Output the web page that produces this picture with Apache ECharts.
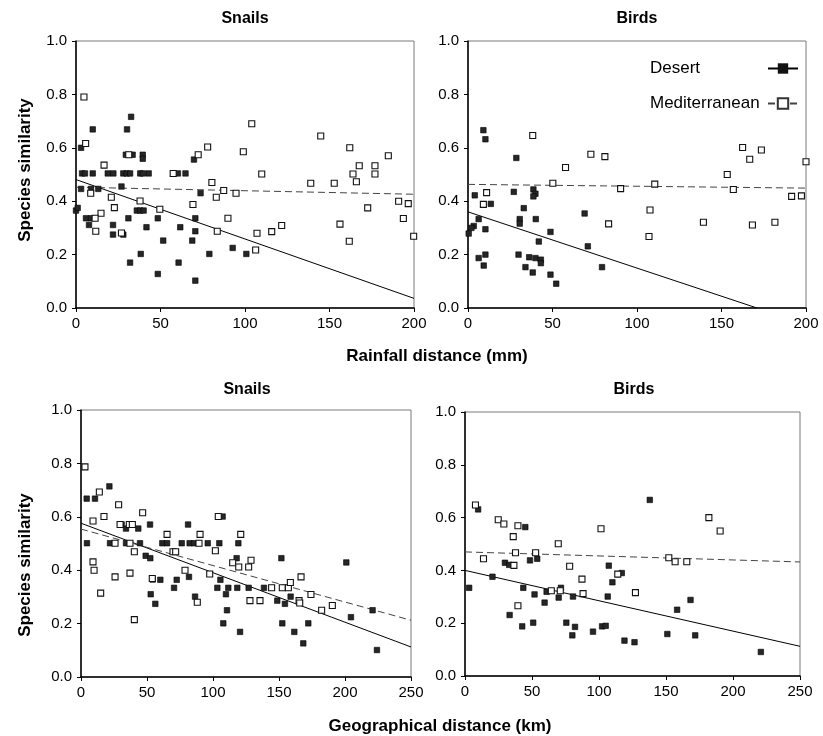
<!DOCTYPE html>
<html><head><meta charset="utf-8">
<script src="https://cdn.jsdelivr.net/npm/echarts@6/dist/echarts.min.js"></script>
<style>html,body{margin:0;padding:0;background:#fff}#c{width:823px;height:736px}</style>
</head><body><div id="c"></div>
<script>
// ---------- data ----------
const panelTitles = ['Snails', 'Birds', 'Snails', 'Birds'];
const xMaxes = [200, 200, 250, 250];
const xLabelTop = 'Rainfall distance (mm)';
const xLabelBottom = 'Geographical distance (km)';
const yLabel = 'Species similarity';
const seriesNames = ['Desert', 'Mediterranean'];

// Panel 1: snails vs rainfall distance
const snailsRainDesert = [[32.6,0.716],[9.9,0.669],[30.2,0.669],[3,0.6],[29.5,0.574],[33.5,0.574],[39.5,0.574],[39.5,0.559],[69.8,0.556],
 [3.6,0.504],[5.3,0.504],[9.9,0.504],[18.8,0.504],[22.1,0.504],[28,0.504],[30,0.504],[32,0.504],[38,0.504],[39.5,0.504],[43,0.504],[60.3,0.504],[64.8,0.504],
 [3,0.446],[8.9,0.446],[13.2,0.446],[26.9,0.455],[73.7,0.43],
 [0,0.365],[1,0.375],[36,0.365],[38,0.365],[40,0.365],
 [5.9,0.336],[8.9,0.336],[31,0.336],[48.4,0.336],[70.6,0.336],
 [7.7,0.311],[21.9,0.311],[41.7,0.3025],[61.7,0.3025],[70.6,0.2875],
 [21.9,0.275],[28,0.275],[51.6,0.2525],[68.8,0.2525],[92.7,0.225],
 [38.3,0.2025],[78.9,0.2025],[100.8,0.2025],[32,0.17],[60.7,0.17],[48.4,0.1275],[70.6,0.1025]];
const snailsRainMed = [[4.7,0.79],[5.7,0.616],[31.2,0.574],[72.3,0.574],[77.9,0.603],[99,0.585],[16.6,0.535],[57.5,0.504],[8.7,0.43],[80.4,0.47],[87.4,0.44],[94.7,0.43],[83,0.415],[20.9,0.415],[37.9,0.401],[22.7,0.376],[49.6,0.37],[69.2,0.3875],[14.8,0.355],[11.3,0.336],[89.9,0.336],[83.6,0.2875],[11.7,0.2875],[26.9,0.281],
 [104,0.69],[144.8,0.644],[162,0.6],[184.8,0.57],[167.6,0.533],[176.9,0.533],[109.9,0.502],[163.9,0.502],[176.9,0.502],[165.9,0.473],[138.9,0.467],[152.8,0.467],[190.9,0.4],[196.6,0.391],[172.6,0.375],[193.7,0.335],[156.2,0.314],[121.7,0.309],[115.8,0.286],[107.1,0.28],[199.8,0.269],[161.7,0.25],[106.3,0.217]];
const snailsRainDesertFit = [[0,0.481],[200,0.036]];
const snailsRainMedFit = [[0,0.4525],[200,0.426]];

// Panel 2: birds vs rainfall distance
const birdsRainDesert = [[9.1,0.666],[10.3,0.632],[28.6,0.562],[4,0.422],[27.1,0.435],[38.7,0.444],[39.9,0.428],[38.7,0.418],[13.5,0.39],[33,0.374],[69,0.354],[6.3,0.333],[30.6,0.333],[30.6,0.316],[40.1,0.333],[3.4,0.307],[2,0.3],[0.4,0.279],[10.3,0.295],[48.8,0.285],[41.9,0.249],[70.9,0.231],[10.3,0.2],[29.9,0.2],[6.3,0.187],[36.2,0.19],[39.9,0.187],[43.1,0.181],[43.1,0.168],[9.3,0.159],[34,0.153],[79.3,0.153],[38.3,0.133],[48.8,0.125],[52.2,0.091]];
const birdsRainMed = [[38.3,0.646],[72.7,0.576],[81,0.567],[57.7,0.526],[50.2,0.467],[11,0.432],[90.3,0.447],[9.1,0.388],[83.2,0.315],[110.5,0.464],[107.7,0.367],[107.1,0.268],[139.3,0.321],[153.4,0.5],[157,0.444],[162.5,0.601],[166.7,0.557],[173.6,0.592],[168.3,0.311],[181.6,0.321],[191.5,0.418],[197.3,0.42],[200,0.548]];
const birdsRainDesertFit = [[0,0.36],[171,0]];
const birdsRainMedFit = [[0,0.463],[200,0.449]];

// Panel 3: snails vs geographical distance
const snailsGeoDesert = [[21.5,0.714],[4.3,0.668],[10.6,0.668],[30.8,0.571],[52.3,0.571],[81.1,0.571],[34.1,0.556],[43.4,0.556],[4.5,0.501],[22,0.501],[34.1,0.501],[44.7,0.501],[61.6,0.501],[65.2,0.501],[76.3,0.501],[82.3,0.501],[85.6,0.501],[96,0.501],[104.8,0.501],[119.2,0.501],[107.3,0.601],[49,0.454],[52.5,0.445],[54.3,0.365],[60.1,0.364],[72.5,0.364],[81.8,0.375],[70.5,0.334],[103.3,0.334],[105.6,0.364],[111.6,0.334],[118.4,0.334],[117.9,0.445],[109.8,0.31],[52.8,0.31],[56.3,0.274],[86.4,0.301],[110.6,0.25],[107.8,0.201],[120.5,0.169],[127,0.334],
 [138.6,0.334],[151.8,0.445],[201,0.429],[158.8,0.301],[148.7,0.286],[154.5,0.274],[152.5,0.201],[172.2,0.201],[161.6,0.169],[168.4,0.126],[204.5,0.224],[220.9,0.25],[224.2,0.101]];
const snailsGeoMed = [[3,0.787],[13.9,0.693],[28.5,0.645],[17.4,0.601],[46.7,0.615],[9.1,0.584],[29.6,0.571],[36.6,0.571],[38.9,0.571],[25.8,0.501],[37.1,0.501],[40.4,0.469],[65.2,0.534],[90.2,0.534],[89.4,0.501],[69.7,0.469],[71.7,0.469],[101.8,0.473],[104,0.601],[121,0.534],[78.8,0.4],[97.5,0.386],[114.9,0.428],[119.5,0.412],[128.8,0.437],[127,0.412],[128,0.286],[88.1,0.28],[54,0.369],[37.1,0.389],[25.8,0.375],[9.1,0.431],[9.9,0.4],[14.9,0.314],[40.4,0.215],
 [135.6,0.286],[144.4,0.334],[152.5,0.334],[157.1,0.334],[166.7,0.375],[158.6,0.354],[165.2,0.286],[165.7,0.277],[174.2,0.309],[182.3,0.25],[190.4,0.268]];
const snailsGeoDesertFit = [[0,0.576],[250,0.1125]];
const snailsGeoMedFit = [[0,0.554],[250,0.2125]];

// Panel 4: birds vs geographical distance
const birdsGeoDesert = [[9.8,0.631],[45,0.564],[29.8,0.429],[33,0.421],[48.5,0.438],[53.9,0.444],[20.5,0.376],[107.3,0.418],[117,0.39],[110,0.355],[3.1,0.334],[43.5,0.334],[51.9,0.309],[60.9,0.319],[71.6,0.334],[69.9,0.297],[59.4,0.278],[80.6,0.301],[106.5,0.301],[33.3,0.231],[42.7,0.188],[50.9,0.202],[75.6,0.202],[82.1,0.186],[80.1,0.154],[95.5,0.168],[102.3,0.188],[105,0.19],[119,0.134],[126.5,0.128],[137.9,0.667],[168.3,0.288],[158.3,0.251],[151,0.159],[171.8,0.154],[220.8,0.091]];
const birdsGeoMed = [[7.8,0.648],[24.8,0.592],[29,0.576],[39.5,0.569],[36,0.528],[69.6,0.501],[101.5,0.558],[13.8,0.444],[37.7,0.467],[52.7,0.467],[36.5,0.419],[78.1,0.416],[87.3,0.367],[114,0.386],[64.4,0.323],[71.1,0.323],[88.1,0.312],[127.2,0.316],[39.5,0.266],[182,0.6],[190.4,0.549],[152.1,0.448],[156.8,0.433],[165.5,0.433]];
const birdsGeoDesertFit = [[0,0.40],[250,0.1125]];
const birdsGeoMedFit = [[0,0.47],[250,0.432]];

const panelDesert = [snailsRainDesert, birdsRainDesert, snailsGeoDesert, birdsGeoDesert];
const panelMed = [snailsRainMed, birdsRainMed, snailsGeoMed, birdsGeoMed];
const panelDesertFit = [snailsRainDesertFit, birdsRainDesertFit, snailsGeoDesertFit, birdsGeoDesertFit];
const panelMedFit = [snailsRainMedFit, birdsRainMedFit, snailsGeoMedFit, birdsGeoMedFit];

// ---------- layout / style ----------
const FONT = 'Liberation Sans, Arial, sans-serif';
const grids = [
  {left: 76, top: 41, width: 338, height: 267},
  {left: 468, top: 41, width: 338, height: 267},
  {left: 81, top: 410, width: 330, height: 267},
  {left: 465, top: 412, width: 335, height: 264}
];

const chart = echarts.init(document.getElementById('c'), null, {renderer: 'canvas'});
const xAxes = [], yAxes = [], series = [];
grids.forEach((g, i) => {
  g.show = true; g.borderColor = '#7a7a7a'; g.borderWidth = 1; g.backgroundColor = 'transparent';
  xAxes.push({
    type: 'value', gridIndex: i, min: 0, max: xMaxes[i], interval: 50,
    axisLine: {show: true, onZero: false, lineStyle: {color: '#000', width: 1.5}},
    axisTick: {show: true, length: 4, lineStyle: {color: '#000'}},
    splitLine: {show: false},
    axisLabel: {color: '#000', fontSize: 15, fontFamily: FONT, margin: 8}
  });
  yAxes.push({
    type: 'value', gridIndex: i, min: 0, max: 1, interval: 0.2,
    axisLine: {show: true, onZero: false, lineStyle: {color: '#000', width: 1.5}},
    axisTick: {show: true, length: 4, lineStyle: {color: '#000'}},
    splitLine: {show: false},
    axisLabel: {color: '#000', fontSize: 15, fontFamily: FONT, margin: 9, formatter: v => v.toFixed(1)}
  });
  series.push({
    name: 'Desert points', type: 'scatter', xAxisIndex: i, yAxisIndex: i,
    symbol: 'rect', symbolSize: 5.5, data: panelDesert[i],
    itemStyle: {color: '#262626', borderColor: '#000', borderWidth: 0.6, opacity: 1}, z: 3
  });
  series.push({
    name: 'Mediterranean points', type: 'scatter', xAxisIndex: i, yAxisIndex: i,
    symbol: 'rect', symbolSize: 6, data: panelMed[i],
    itemStyle: {color: '#fff', borderColor: '#111', borderWidth: 1.1, opacity: 1}, z: 4
  });
  series.push({
    name: seriesNames[0], type: 'line', xAxisIndex: i, yAxisIndex: i,
    data: panelDesertFit[i], showSymbol: false, symbol: 'rect', symbolSize: 11,
    lineStyle: {color: '#000', width: 1, type: 'solid'},
    itemStyle: {color: '#111', borderColor: '#000'}, z: 2, silent: true
  });
  series.push({
    name: seriesNames[1], type: 'line', xAxisIndex: i, yAxisIndex: i,
    data: panelMedFit[i], showSymbol: false, symbol: 'rect', symbolSize: 11,
    lineStyle: {color: '#444', width: 1, type: [7, 4]},
    itemStyle: {color: '#fff', borderColor: '#333', borderWidth: 1}, z: 2, silent: true
  });
});

function txt(x, y, text, size, bold, rot) {
  return {type: 'text', x: x, y: y, rotation: rot || 0,
    style: {text: text, fill: '#000', font: (bold ? 'bold ' : '') + size + 'px ' + FONT,
      textAlign: 'center', textVerticalAlign: 'middle'}};
}
const graphics = [
  txt(245, 19, panelTitles[0], 16, true),
  txt(637, 19, panelTitles[1], 16, true),
  txt(247, 390, panelTitles[2], 16, true),
  txt(634, 390, panelTitles[3], 16, true),
  txt(437, 356, xLabelTop, 17, true),
  txt(440, 726, xLabelBottom, 17, true),
  txt(25, 170, yLabel, 17, true, Math.PI / 2),
  txt(25, 565, yLabel, 17, true, Math.PI / 2)
];

chart.setOption({
  animation: false,
  backgroundColor: '#fff',
  grid: grids,
  xAxis: xAxes,
  yAxis: yAxes,
  series: series,
  legend: {
    data: seriesNames, orient: 'vertical', left: 645, top: 55, align: 'right',
    itemWidth: 30, itemHeight: 13, itemGap: 18, selectedMode: false,
    formatter: n => '{t|' + n + '}',
    textStyle: {fontSize: 17, fontFamily: FONT, color: '#000',
      rich: {t: {width: 113, align: 'left', fontSize: 17, fontFamily: FONT, color: '#000'}}}
  },
  graphic: graphics
});
</script></body></html>
